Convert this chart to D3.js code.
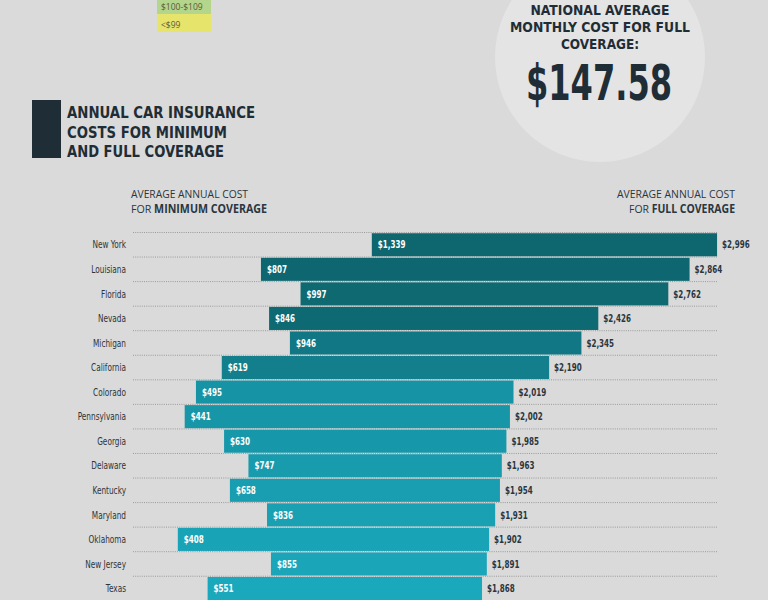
<!DOCTYPE html>
<html>
<head>
<meta charset="utf-8">
<script src="https://cdn.jsdelivr.net/npm/d3@7"></script>
<style>
  html, body { margin: 0; padding: 0; background: #dadada; }
  svg { display: block; }
</style>
</head>
<body>
<svg id="chart" width="768" height="600"></svg>
<script>
// ---- DATA ----
const states = ["New York","Louisiana","Florida","Nevada","Michigan","California","Colorado","Pennsylvania","Georgia","Delaware","Kentucky","Maryland","Oklahoma","New Jersey","Texas"];
const minCost = [1339, 807, 997, 846, 946, 619, 495, 441, 630, 747, 658, 836, 408, 855, 551];
const fullCost = [2996, 2864, 2762, 2426, 2345, 2190, 2019, 2002, 1985, 1963, 1954, 1931, 1902, 1891, 1868];
const legendLabels = ["$100-$109", "<$99"];
const titleLines = ["ANNUAL CAR INSURANCE", "COSTS FOR MINIMUM", "AND FULL COVERAGE"];
const calloutLines = ["NATIONAL AVERAGE", "MONTHLY COST FOR FULL", "COVERAGE:"];
const calloutValue = "$147.58";

const rows = states.map((s, i) => ({ state: s, min: minCost[i], full: fullCost[i], i }));

const svg = d3.select("#chart");
const narrow = "'Liberation Sans Narrow', 'DejaVu Sans Condensed', 'Roboto', sans-serif";
const sans = "'Open Sans', 'Noto Sans', sans-serif";
const dark = "#1f2d36";

// background
svg.append("rect").attr("width", 768).attr("height", 600).attr("fill", "#dadada");

// callout circle
svg.append("circle").attr("cx", 600).attr("cy", 57).attr("r", 105).attr("fill", "#e4e4e4");
const calloutWidths = [139, 180, 78];
svg.selectAll("text.callout").data(calloutLines).join("text")
  .attr("class", "callout")
  .attr("x", 600).attr("y", (d, i) => 14.5 + i * 17)
  .attr("text-anchor", "middle")
  .attr("font-family", narrow).attr("font-weight", "bold").attr("font-size", 14.5)
  .attr("fill", dark)
  .attr("textLength", (d, i) => calloutWidths[i]).attr("lengthAdjust", "spacingAndGlyphs")
  .text(d => d);
svg.append("text").attr("x", 599).attr("y", 100)
  .attr("text-anchor", "middle")
  .attr("font-family", narrow).attr("font-weight", "bold").attr("font-size", 50)
  .attr("fill", dark)
  .attr("textLength", 146).attr("lengthAdjust", "spacingAndGlyphs")
  .text(calloutValue);

// legend fragments
const legendColors = ["#b3d68c", "#e7e46c"];
const legendY = [0, 14];
const legendH = [14, 18];
legendLabels.forEach((l, i) => {
  svg.append("rect").attr("x", 157).attr("y", legendY[i]).attr("width", 54).attr("height", legendH[i]).attr("fill", legendColors[i]);
  svg.append("text").attr("x", 161).attr("y", legendY[i] + legendH[i] - 4)
    .attr("font-family", sans).attr("font-size", 8.5).attr("fill", "#5a5a3a").text(l);
});

// title block
svg.append("rect").attr("x", 32).attr("y", 100).attr("width", 29).attr("height", 58).attr("fill", dark);
const titleWidths = [188, 160, 157];
svg.selectAll("text.title").data(titleLines).join("text")
  .attr("class", "title")
  .attr("x", 67).attr("y", (d, i) => 118 + i * 19.5)
  .attr("font-family", narrow).attr("font-weight", "bold").attr("font-size", 16.5)
  .attr("fill", dark)
  .attr("textLength", (d, i) => titleWidths[i]).attr("lengthAdjust", "spacingAndGlyphs")
  .text(d => d);

// headers
function header(x, anchor, boldWord, widths) {
  const g = svg.append("g").attr("font-family", sans).attr("font-size", 11.5).attr("fill", "#2a3640");
  g.append("text").attr("x", x).attr("y", 198).attr("text-anchor", anchor)
    .attr("textLength", widths[0]).attr("lengthAdjust", "spacingAndGlyphs")
    .text("AVERAGE ANNUAL COST");
  const t = g.append("text").attr("x", x).attr("y", 212.5).attr("text-anchor", anchor)
    .attr("textLength", widths[1]).attr("lengthAdjust", "spacingAndGlyphs");
  t.append("tspan").text("FOR ");
  t.append("tspan").attr("font-weight", "bold").text(boldWord);
}
header(131, "start", "MINIMUM COVERAGE", [117, 136]);
header(735, "end", "FULL COVERAGE", [118, 106]);

// scales
const x = d3.scaleLinear().domain([0, 3000]).range([92.8, 717.9]);
const y = d3.scaleBand().domain(states).range([232.5, 600.8]).paddingInner(0.06).paddingOuter(0.03);
const step = y.step();
const color = d3.scaleLinear()
  .domain([0, 3, 4, 5, 6, 14])
  .range(["#0e666f", "#0e6a72", "#117784", "#137f8c", "#1693a4", "#1aa8bc"]);

// dotted guides
const guideYs = d3.range(states.length + 1).map(i => 232.5 + i * step);
svg.selectAll("line.guide").data(guideYs).join("line")
  .attr("class", "guide")
  .attr("x1", 133).attr("x2", x(3000))
  .attr("y1", d => d).attr("y2", d => d)
  .attr("stroke", "#8a8a8a").attr("stroke-width", 0.8).attr("stroke-dasharray", "1,1.2");

// bars
svg.selectAll("rect.bar").data(rows).join("rect")
  .attr("class", "bar")
  .attr("x", d => x(d.min))
  .attr("width", d => x(d.full) - x(d.min))
  .attr("y", d => y(d.state))
  .attr("height", y.bandwidth())
  .attr("fill", d => color(d.i));

const fmt = d3.format("$,");
const cy = d => y(d.state) + y.bandwidth() / 2;

// state labels
svg.selectAll("text.state").data(rows).join("text")
  .attr("class", "state")
  .attr("transform", d => `translate(126,${cy(d)}) scale(0.78,1)`)
  .attr("dy", "0.35em").attr("text-anchor", "end")
  .attr("font-family", narrow).attr("font-size", 10.5).attr("fill", "#2e3438")
  .text(d => d.state);

// min labels (inside)
svg.selectAll("text.minl").data(rows).join("text")
  .attr("class", "minl")
  .attr("transform", d => `translate(${x(d.min) + 6},${cy(d)}) scale(0.76,1)`)
  .attr("dy", "0.35em")
  .attr("font-family", narrow).attr("font-weight", "bold").attr("font-size", 10.5).attr("fill", "#ffffff")
  .text(d => fmt(d.min));

// full labels (outside)
svg.selectAll("text.fulll").data(rows).join("text")
  .attr("class", "fulll")
  .attr("transform", d => `translate(${x(d.full) + 5},${cy(d)}) scale(0.76,1)`)
  .attr("dy", "0.35em")
  .attr("font-family", narrow).attr("font-weight", "bold").attr("font-size", 10.5).attr("fill", "#2a3640")
  .text(d => fmt(d.full));
</script>
</body>
</html>
